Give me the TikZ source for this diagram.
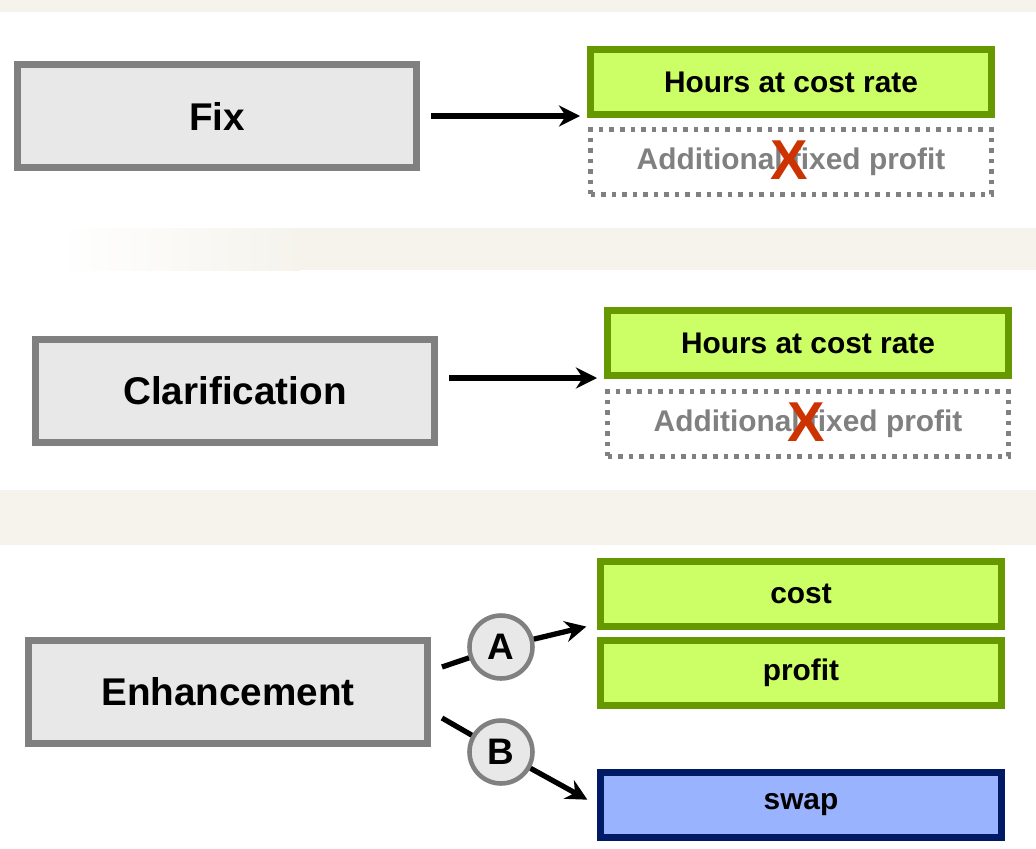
\documentclass[tikz,border=0pt]{standalone}
\usepackage{fontspec}
\setmainfont{Liberation Sans}
\usetikzlibrary{positioning,calc,arrows.meta}
\usepackage{xcolor}
\definecolor{slate}{HTML}{808080}
\definecolor{mist}{HTML}{E8E8E8}
\definecolor{lime}{HTML}{CCFF66}
\definecolor{olive}{HTML}{669900}
\definecolor{sky}{HTML}{99B3FF}
\definecolor{navy}{HTML}{001A66}
\definecolor{rust}{HTML}{CC3300}
\definecolor{sand}{HTML}{F5F3EC}
\tikzset{
  changebox/.style={draw=slate,line width=4.5pt,fill=mist,minimum width=7.98cm,
        minimum height=2.06cm,inner sep=0pt,font=\fontsize{22}{26}\selectfont\bfseries},
  ratebox/.style={draw=olive,line width=4pt,fill=lime,minimum width=8.02cm,
        minimum height=1.3cm,inner sep=0pt,font=\fontsize{17}{20}\selectfont\bfseries},
  swapbox/.style={ratebox,draw=navy,fill=sky},
  dropbox/.style={draw=slate,line width=2.6pt,dash pattern=on 2.6pt off 3.4pt,
        minimum width=8.02cm,minimum height=1.3cm,inner sep=0pt,text=slate,
        font=\fontsize{17}{20}\selectfont\bfseries},
  crossmark/.style={text=rust,inner sep=0pt,font=\fontsize{32}{34}\selectfont\bfseries},
  pathmark/.style={circle,draw=slate,line width=2.6pt,fill=mist,minimum size=1.26cm,
        inner sep=0pt,font=\fontsize{21}{24}\selectfont\bfseries},
  link/.style={line width=3pt},
  flow/.style={link,-{Stealth[length=12pt,width=12pt]}},
}
\newcommand{\droppedbox}[2]{%
  \node[dropbox] (#2) at (#1) {Additional fixed profit};
  \node[crossmark] (#2x) at ($(#2.center)+(-2,-2)$) {X};
}

\begin{document}
\begin{tikzpicture}[x=0.02cm,y=-0.02cm]
  \useasboundingbox (0,0) rectangle (1036,849);
  \fill[sand] (0,0) rectangle (1036,12);
  \shade[left color=white,right color=sand] (60,228) rectangle (300,270);
  \fill[sand] (300,228) rectangle (1036,270);
  \fill[sand] (0,490) rectangle (1036,545);

  \node[changebox] (fix) at (217,116) {Fix};
  \node[ratebox] (rate1) at (791,82) {Hours at cost rate};
  \droppedbox{791,162}{drop1}
  \draw[flow,shorten <=0.22cm,shorten >=0.14cm] (fix.east) -- (fix.east -| rate1.west);

  \node[changebox] (clar) at (235,391) {Clarification};
  \node[ratebox] (rate2) at (808,343) {Hours at cost rate};
  \droppedbox{808,424}{drop2}
  \draw[flow,shorten <=0.22cm,shorten >=0.14cm] ([yshift=0.26cm]clar.east) -- ([yshift=0.26cm]clar.east -| rate2.west);

  \node[changebox] (enh) at (228,692) {Enhancement};
  \node[ratebox] (cost) at (801,594) {cost};
  \node[ratebox] (profit) at (801,673) {profit};
  \node[swapbox] (swap) at (801,805) {swap};
  \node[pathmark] (markA) at (501,647) {A};
  \node[pathmark] (markB) at (501,752) {B};
  \coordinate (forkA) at (442,667);
  \coordinate (forkB) at (442,718);
  \draw[link] (forkA) -- (markA);
  \draw[flow,shorten >=0.22cm] (markA) -- ([yshift=0.12cm]cost.south west);
  \draw[link] (forkB) -- (markB);
  \draw[flow,shorten >=0.22cm] (markB) -- (swap.west);
\end{tikzpicture}
\end{document}
